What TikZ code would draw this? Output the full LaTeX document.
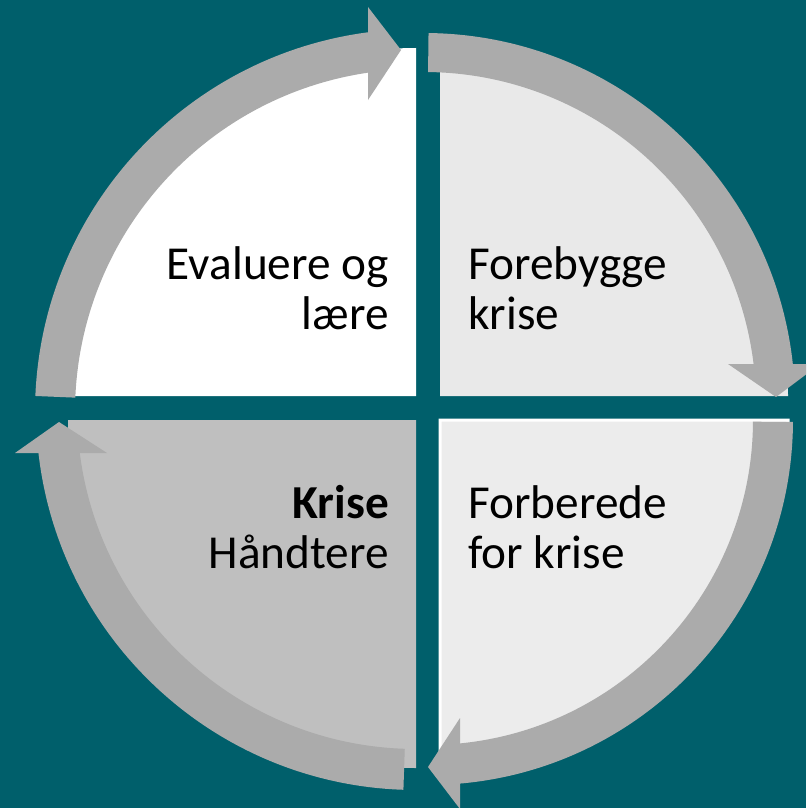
\documentclass[tikz,border=0pt]{standalone}
\usepackage{fontspec}
\setmainfont{Carlito}
\usepackage{tikz}

\definecolor{bgteal}{HTML}{005F6B}
\definecolor{ringgray}{HTML}{ABABAB}
\definecolor{segtr}{HTML}{E9E9E9}
\definecolor{segbr}{HTML}{ECECEC}
\definecolor{segbl}{HTML}{BFBFBF}

\begin{document}
\begin{tikzpicture}[x=1pt,y=-1pt]
	\tikzstyle{ring}=[fill=ringgray]
	\tikzstyle{phase}=[font=\fontsize{47.3}{50.5}\selectfont,text=black,inner sep=0pt]

	\useasboundingbox (0,0) rectangle (806,808);
	\fill[bgteal] (0,0) rectangle (806,808);
	\clip (0,0) rectangle (806,808);

	\fill[white] (416,396) -- (416,48) arc[start angle=270,end angle=180,radius=348] -- cycle;
	\fill[segtr] (440,396) -- (440,48) arc[start angle=270,end angle=360,radius=348] -- cycle;
	\fill[segbr,draw=white,line width=3pt] (440,420) -- (788,420) arc[start angle=0,end angle=90,radius=348] -- cycle;
	\fill[segbl] (416,420) -- (416,768) arc[start angle=90,end angle=180,radius=348] -- cycle;

	\fill[ring,shift={(418,412)}] (182.4:383) arc[start angle=182.4,end angle=263,radius=383]
		-- (263:343) arc[start angle=263,end angle=182.4,radius=343] -- cycle;
	\fill[ring] (368,7) -- (401,50) -- (368,100) -- cycle;

	\fill[ring,shift={(424,404)}] (270.7:371) arc[start angle=270.7,end angle=354.2,radius=371]
		-- (354.2:332) arc[start angle=354.2,end angle=270.7,radius=332] -- cycle;
	\fill[ring] (728,364) -- (776,397) -- (820,364) -- cycle;

	\fill[ring,shift={(428,420)}] (0.3:365) arc[start angle=0.3,end angle=85.3,radius=365]
		-- (85.3:325) arc[start angle=85.3,end angle=0.3,radius=325] -- cycle;
	\fill[ring] (460,718) -- (428,767) -- (460,809) -- cycle;

	\fill[ring,shift={(416,410)}] (91.9:380) arc[start angle=91.9,end angle=173.8,radius=380]
		-- (173.8:339) arc[start angle=173.8,end angle=91.9,radius=339] -- cycle;
	\fill[ring] (15,453) -- (59,422) -- (107,453) -- cycle;

	\node[phase,anchor=east,align=right] (evaluere) at (389,288) {Evaluere og\\lære};
	\node[phase,anchor=west,align=left] (forebygge) at (468,288) {Forebygge\\krise};
	\node[phase,anchor=west,align=left] (forberede) at (468,527) {Forberede\\for krise};
	\node[phase,anchor=east,align=right] (haandtere) at (389,527) {\textbf{Krise}\\Håndtere};

\end{tikzpicture}
\end{document}
